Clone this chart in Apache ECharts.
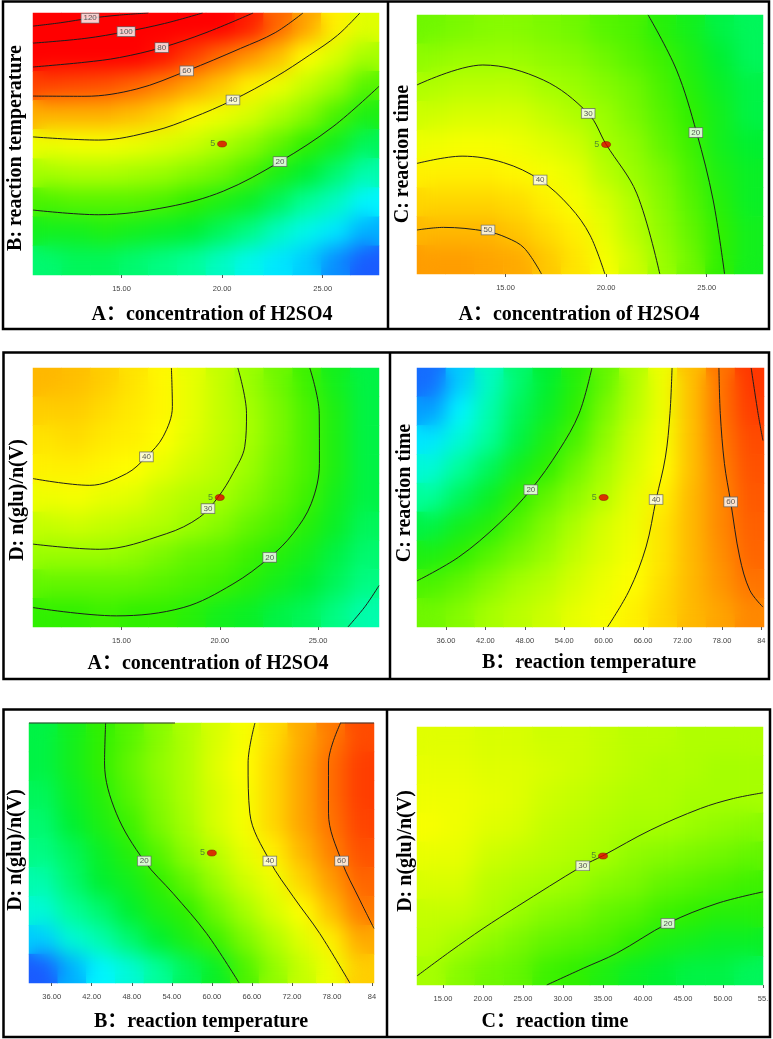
<!DOCTYPE html>
<html>
<head>
<meta charset="utf-8">
<script src="https://cdn.jsdelivr.net/npm/echarts@6/dist/echarts.min.js"></script>
<style>
  html, body { margin: 0; padding: 0; background: #fff; }
  #wrap { position: relative; width: 773px; height: 1039px; }
  .layer { position: absolute; left: 0; top: 0; width: 773px; height: 1039px; }
  #heatSoft { filter: blur(10px); }
</style>
</head>
<body>
<div id="wrap">
  <div id="heat" class="layer"></div>
  <div id="heatSoft" class="layer"></div>
  <div id="chart" class="layer"></div>
</div>
<script>
// tick labels on the factor axes
const aTicks = [15, 20, 25]
const bTicks = [36, 42, 48, 54, 60, 66, 72, 78, 84]
const cTicks = [15, 20, 25, 30, 35, 40, 45, 50, 55]

// response, 12 columns x 9 rows, top row first
const gridAB = [
  [117, 113, 109, 102, 97, 90, 82, 73, 62, 53, 42, 36],
  [87, 85, 83, 80, 75, 68, 61, 55, 49, 40, 35, 30],
  [67, 66, 65, 62, 58, 53, 48, 42, 38, 33, 29, 23],
  [51, 51, 51, 49, 46, 41, 38, 35, 31, 27, 22, 18],
  [38, 39, 39, 38, 36, 34, 31, 28, 24, 20, 17, 13],
  [30, 31, 31, 30, 29, 27, 25, 22, 18, 15, 12, 9],
  [22, 23, 23, 23, 22, 20, 18, 16, 13, 10, 8, 5],
  [17, 17, 18, 17, 16, 15, 13, 11, 8, 6, 4, 0],
  [12, 13, 13, 12, 11, 10, 8, 6, 4, 2, -2, -5]
]
const gridAC = [
  [25, 26, 27, 27, 26, 25, 23, 22, 19, 17, 14, 13],
  [28, 29, 29, 29, 28, 27, 25, 23, 21, 18, 15, 13],
  [31, 32, 32, 32, 30, 29, 27, 25, 22, 19, 16, 14],
  [34, 35, 35, 35, 33, 31, 29, 26, 23, 20, 17, 14],
  [38, 39, 39, 38, 36, 34, 30, 28, 24, 21, 17, 15],
  [42, 42, 42, 41, 39, 37, 32, 29, 26, 22, 18, 16],
  [46, 46, 46, 45, 42, 39, 35, 31, 27, 23, 19, 16],
  [50, 50, 50, 48, 45, 42, 37, 32, 28, 24, 20, 17],
  [54, 54, 53, 52, 48, 44, 39, 34, 29, 25, 20, 17]
]
const gridAD = [
  [50, 49, 47, 44, 41, 37, 33, 29, 25, 21, 17, 14],
  [47, 47, 45, 43, 41, 37, 33, 30, 26, 22, 18, 14],
  [44, 45, 43, 42, 40, 36, 33, 30, 26, 22, 18, 14],
  [42, 42, 41, 40, 37, 34, 32, 29, 25, 22, 18, 14],
  [38, 39, 37, 36, 33, 31, 30, 27, 24, 21, 17, 14],
  [33, 34, 33, 32, 31, 29, 27, 24, 22, 19, 16, 13],
  [29, 29, 29, 28, 26, 24, 23, 21, 19, 17, 14, 12],
  [24, 24, 24, 24, 23, 22, 21, 19, 17, 15, 13, 11],
  [20, 20, 21, 20, 20, 19, 17, 16, 14, 13, 11, 9]
]
const gridBC = [
  [-4, 2, 8, 12, 15, 19, 24, 31, 38, 49, 60, 69],
  [-1, 5, 9, 13, 16, 20, 26, 32, 38, 49, 60, 68],
  [4, 7, 10, 14, 18, 22, 28, 34, 39, 49, 59, 66],
  [7, 10, 13, 17, 20, 25, 30, 35, 40, 49, 58, 65],
  [10, 13, 16, 20, 24, 28, 32, 37, 42, 50, 57, 64],
  [14, 17, 19, 23, 27, 31, 35, 38, 44, 50, 57, 63],
  [18, 20, 23, 26, 29, 33, 36, 39, 44, 50, 56, 62],
  [22, 24, 27, 30, 32, 35, 38, 40, 45, 50, 55, 60],
  [25, 27, 30, 32, 34, 37, 39, 42, 46, 50, 53, 57]
]
const gridBD = [
  [14, 17, 20, 23, 27, 31, 35, 39, 45, 52, 59, 66],
  [14, 17, 20, 24, 28, 31, 36, 40, 46, 53, 61, 68],
  [13, 16, 19, 23, 27, 31, 35, 39, 46, 53, 61, 68],
  [12, 15, 18, 21, 26, 30, 35, 39, 46, 53, 60, 67],
  [11, 13, 16, 19, 23, 28, 32, 37, 42, 50, 58, 65],
  [9, 12, 15, 17, 20, 24, 29, 34, 38, 46, 54, 62],
  [7, 10, 12, 15, 18, 20, 25, 30, 35, 40, 49, 59],
  [2, 7, 9, 12, 15, 18, 21, 26, 31, 36, 42, 52],
  [-5, 0, 5, 7, 10, 13, 16, 22, 28, 33, 38, 47]
]
const gridCD = [
  [36, 36, 35, 35, 34, 34, 33, 32, 32, 31, 31, 31],
  [37, 37, 36, 36, 35, 34, 33, 32, 31, 31, 30, 30],
  [38, 38, 37, 36, 34, 33, 32, 31, 31, 30, 30, 30],
  [39, 38, 36, 35, 33, 32, 31, 30, 30, 29, 28, 27],
  [37, 37, 34, 33, 32, 31, 30, 28, 27, 26, 25, 24],
  [35, 35, 32, 31, 30, 29, 27, 26, 24, 23, 22, 21],
  [33, 33, 31, 29, 27, 26, 24, 23, 21, 20, 19, 19],
  [32, 30, 28, 26, 24, 23, 22, 20, 18, 17, 16, 16],
  [30, 27, 25, 24, 21, 20, 18, 16, 15, 14, 14, 13]
]

// contour lines [x, y]
const ab120 = [[10.6, 81.6], [11.98, 82.22], [13.44, 83.04], [14.9, 83.62], [16.33, 84]]
const ab100 = [[10.6, 78.48], [13.18, 79.34], [15.23, 80.59], [17.14, 82.08], [19.03, 84]]
const ab80 = [[10.6, 74.11], [13.18, 74.98], [14.9, 75.84], [17.0, 77.66], [19.2, 80.4], [21.54, 84]]
const ab60 = [[10.6, 68.78], [13.18, 68.74], [15.76, 70.08], [18.24, 73.39], [20.92, 77.52], [22.64, 80.4], [24.02, 84]]
const ab40 = [[10.6, 61.3], [13.87, 60.72], [16.62, 62.4], [18.51, 64.8], [20.54, 68.06], [22.64, 72.24], [24.36, 76.32], [25.74, 79.92], [26.85, 84]]
const ab20 = [[10.6, 47.9], [13.87, 47.04], [17.31, 48.48], [20.06, 51.36], [22.88, 56.78], [25.51, 63.17], [27.8, 70.56]]
const labelsAB = [[13.44, 83.04, '120'], [15.23, 80.59, '100'], [17.0, 77.66, '80'], [18.24, 73.39, '60'], [20.54, 68.06, '40'], [22.88, 56.78, '20']]

const ac50 = [[10.6, 21.8], [11.92, 22.2], [14.04, 21.6], [15.07, 20.6], [15.93, 19], [16.79, 15]]
const ac40 = [[10.6, 32.08], [12.84, 33.2], [14.9, 32.2], [16.72, 29.52], [18.2, 25.4], [19.2, 21], [19.94, 15]]
const ac30 = [[10.6, 44.2], [13.87, 47.28], [16.88, 44.96], [19.11, 39.8], [19.99, 35.08], [21.52, 27.48], [22.67, 15]]
const ac20 = [[22.09, 55], [23.5, 46.52], [24.5, 36.84], [25.32, 26.44], [25.89, 15]]
const labelsAC = [[14.13, 21.8, '50'], [16.72, 29.52, '40'], [19.11, 39.8, '30'], [24.46, 36.84, '20']]

const ad40 = [[17.54, 3], [17.59, 2.702], [17.12, 2.47], [16.27, 2.314], [15.25, 2.184], [13.39, 2.094], [10.5, 2.146]]
const ad30 = [[20.92, 3], [21.36, 2.65], [21.27, 2.392], [20.67, 2.186], [19.92, 2.004], [18.98, 1.848], [17.28, 1.72], [13.9, 1.6], [10.5, 1.64]]
const ad20 = [[24.58, 3], [25.06, 2.65], [25.07, 2.262], [24.65, 1.952], [23.72, 1.72], [22.54, 1.538], [20.67, 1.332], [18.14, 1.15], [14.74, 1.086], [10.5, 1.15]]
const ad10 = [[26.52, 1.0], [27.4, 1.16], [28.1, 1.32]]
const labelsAD = [[16.27, 2.314, '40'], [19.4, 1.914, '30'], [22.54, 1.538, '20']]

const bc20 = [[58.21, 55], [56.26, 47.96], [53.2, 42.28], [48.92, 36.2], [44.06, 30.96], [37.94, 25.8], [31.6, 22.12]]
const bc40 = [[70.41, 55], [70.09, 47.96], [69.4, 41.24], [67.98, 34.68], [66.45, 27.36], [63.91, 20.68], [60.59, 15]]
const bc60 = [[77.54, 55], [77.75, 47.96], [78.38, 40.24], [79.33, 34.32], [80.7, 25.8], [82.24, 20.68], [84.24, 18.08]]
const bc70 = [[82.45, 55], [83.5, 47.96], [84.24, 43.8]]
const labelsBC = [[48.92, 36.2, '20'], [67.98, 34.68, '40'], [79.33, 34.32, '60']]

const bd20 = [[44.08, 3], [43.92, 2.692], [45.68, 2.306], [49.87, 1.938], [54.21, 1.688], [59.23, 1.38], [64.09, 1.0]]
const bd40 = [[66.46, 3], [65.43, 2.692], [65.69, 2.306], [68.69, 1.938], [72.2, 1.664], [76.18, 1.38], [80.68, 1.0]]
const bd60 = [[79.29, 3], [77.48, 2.692], [77.48, 2.306], [79.44, 1.938], [82.18, 1.638], [84.3, 1.42]]
const labelsBD = [[49.87, 1.938, '20'], [68.69, 1.938, '40'], [79.44, 1.938, '60']]

const cd30 = [[11.75, 1.07], [15.86, 1.258], [20.01, 1.438], [24.21, 1.606], [32.47, 1.924], [34.98, 2.002], [40.9, 2.2], [47.17, 2.368], [51.32, 2.446], [55, 2.49]]
const cd20 = [[27.97, 1.0], [32.55, 1.13], [36.7, 1.246], [43.11, 1.478], [49.25, 1.632], [55, 1.722]]
const labelsCD = [[32.47, 1.924, '30'], [43.11, 1.478, '20']]

// centre point of the design (5 replicates)
const centerAB = [20, 60]
const centerAC = [20, 35]
const centerAD = [20, 2]
const centerBC = [60, 35]
const centerBD = [60, 2]
const centerCD = [35, 2]

const colorStops = ['#1a5cff', '#00b0ff', '#00f5ff', '#00ff99', '#00f030', '#30f000', '#70f800', '#a6ff00', '#d8ff00',
  '#ffff00', '#ffdd00', '#ffb800', '#ff9600', '#ff7400', '#ff5200', '#ff3000', '#ff1400', '#ff0000']

const panels = [
  { rect: { left: 33, top: 13, width: 346, height: 262 }, x: [10.6, 27.8], y: [36, 84], ticks: aTicks,
    cells: gridAB, lines: [ab120, ab100, ab80, ab60, ab40, ab20], labels: labelsAB, center: centerAB },
  { rect: { left: 417, top: 15, width: 346, height: 259 }, x: [10.6, 27.8], y: [15, 55], ticks: aTicks,
    cells: gridAC, lines: [ac50, ac40, ac30, ac20], labels: labelsAC, center: centerAC },
  { rect: { left: 33, top: 368, width: 346, height: 259 }, x: [10.5, 28.1], y: [1, 3], ticks: aTicks,
    cells: gridAD, lines: [ad40, ad30, ad20, ad10], labels: labelsAD, center: centerAD },
  { rect: { left: 417, top: 368, width: 347, height: 259 }, x: [31.6, 84.4], y: [15, 55], ticks: bTicks,
    cells: gridBC, lines: [bc20, bc40, bc60, bc70], labels: labelsBC, center: centerBC },
  { rect: { left: 29, top: 723, width: 345, height: 260 }, x: [32.6, 84.3], y: [1, 3], ticks: bTicks,
    cells: gridBD, lines: [bd20, bd40, bd60], labels: labelsBD, center: centerBD },
  { rect: { left: 417, top: 727, width: 346, height: 258 }, x: [11.75, 55], y: [1, 3], ticks: cTicks,
    cells: gridCD, lines: [cd30, cd20], labels: labelsCD, center: centerCD }
]

const xTitles = [
  { text: 'A：concentration of H2SO4', x: 212, y: 315 },
  { text: 'A：concentration of H2SO4', x: 579, y: 315 },
  { text: 'A：concentration of H2SO4', x: 208, y: 664 },
  { text: 'B：reaction temperature', x: 589, y: 663 },
  { text: 'B：reaction temperature', x: 201, y: 1022 },
  { text: 'C：reaction time', x: 555, y: 1022 }
]
const yTitles = [
  { text: 'B: reaction temperature', x: 16, y: 148 },
  { text: 'C: reaction time', x: 403, y: 154 },
  { text: 'D: n(glu)/n(V)', x: 18, y: 500 },
  { text: 'C: reaction time', x: 405, y: 493 },
  { text: 'D: n(glu)/n(V)', x: 16, y: 850 },
  { text: 'D: n(glu)/n(V)', x: 406, y: 851 }
]

const tickLabel = (v) => {
  if (v === 84) return '84'
  if (v === 55) return '55.'
  return v.toFixed(2)
}

const colIdx = Array.from({ length: 12 }, (_, i) => String(i))
const rowIdx = Array.from({ length: 9 }, (_, i) => String(i))

// heatmap layers (a plain one, and a softened copy laid over it inside the plot areas)
const heatGrid = []
const heatX = []
const heatY = []
const heatSeries = []
panels.forEach((p, i) => {
  heatGrid.push(Object.assign({ outerBoundsMode: 'none' }, p.rect))
  heatX.push({ gridIndex: i, type: 'category', data: colIdx, show: false })
  heatY.push({ gridIndex: i, type: 'category', data: rowIdx, show: false })
  const cells = []
  p.cells.forEach((row, r) => {
    row.forEach((v, c) => cells.push([c, p.cells.length - 1 - r, v]))
  })
  heatSeries.push({
    type: 'heatmap', xAxisIndex: i, yAxisIndex: i, data: cells,
    itemStyle: { borderWidth: 0 }, emphasis: { disabled: true }, silent: true
  })
})
const heatOption = (bg) => ({
  animation: false,
  backgroundColor: bg,
  grid: heatGrid,
  xAxis: heatX,
  yAxis: heatY,
  visualMap: {
    type: 'continuous', show: false, min: -5, max: 80, dimension: 2,
    inRange: { color: colorStops }
  },
  series: heatSeries
})
echarts.init(document.getElementById('heat')).setOption(heatOption('#fff'))

const softEl = document.getElementById('heatSoft')
softEl.style.clipPath = "path('" + panels.map((p) => {
  const r = p.rect
  return 'M' + r.left + ' ' + r.top + 'h' + r.width + 'v' + r.height + 'h' + (-r.width) + 'Z'
}).join(' ') + "')"
echarts.init(softEl).setOption(heatOption('transparent'))

// contours, labels, axes, titles and frames on top
const grid = []
const xAxis = []
const yAxis = []
const series = []
panels.forEach((p, i) => {
  grid.push(Object.assign({ outerBoundsMode: 'none' }, p.rect))
  xAxis.push({
    gridIndex: i, type: 'value', min: p.x[0], max: p.x[1], position: 'bottom',
    axisLine: { show: false },
    splitLine: { show: false },
    axisTick: { show: true, customValues: p.ticks, length: 3, lineStyle: { color: '#555', width: 1 } },
    axisLabel: { customValues: p.ticks, formatter: tickLabel, fontSize: 7.5, color: '#444', margin: 10, fontFamily: 'Liberation Sans' }
  })
  yAxis.push({ gridIndex: i, type: 'value', min: p.y[0], max: p.y[1], show: false })

  p.lines.forEach((pts) => {
    series.push({
      type: 'line', xAxisIndex: i, yAxisIndex: i, data: pts,
      smooth: 0.35, symbol: 'none', silent: true, z: 3,
      lineStyle: { color: '#1e1e1e', width: 1 }
    })
  })

  series.push({
    type: 'scatter', xAxisIndex: i, yAxisIndex: i, silent: true, z: 5,
    symbolSize: 0, itemStyle: { color: 'rgba(0,0,0,0)' },
    data: p.labels.map((l) => ({ value: [l[0], l[1]], name: l[2] })),
    label: {
      show: true, position: 'inside', formatter: '{b}', fontSize: 8, color: '#333',
      fontFamily: 'Liberation Sans', backgroundColor: '#fff', borderColor: '#666', borderWidth: 0.8,
      padding: [1, 2, 0, 2]
    }
  })

  series.push({
    type: 'scatter', xAxisIndex: i, yAxisIndex: i, silent: true, z: 6,
    data: [p.center], symbol: 'circle', symbolSize: [9, 6],
    itemStyle: { color: '#e00000', borderColor: '#800', borderWidth: 0.6 },
    label: { show: true, position: 'left', distance: 2, formatter: '5', fontSize: 9, color: '#3d6b3d', fontFamily: 'Liberation Sans' }
  })
})

const graphic = []
const titleFont = 'bold 20px "Liberation Serif", "Noto Sans CJK SC", serif'
xTitles.forEach((t) => {
  graphic.push({ type: 'text', x: t.x, y: t.y, z: 50,
    style: { text: t.text, font: titleFont, fill: '#000', align: 'center', verticalAlign: 'middle' } })
})
yTitles.forEach((t) => {
  graphic.push({ type: 'text', x: t.x, y: t.y, rotation: Math.PI / 2, z: 50,
    style: { text: t.text, font: titleFont, fill: '#000', align: 'center', verticalAlign: 'middle' } })
})
// frames around the three rows of panels
const frames = [[3, 1.5, 766, 327.5, 388], [3.5, 352.5, 765.5, 326.5, 390], [3.5, 709.5, 766.5, 327.5, 387]]
frames.forEach((f) => {
  graphic.push({ type: 'rect', z: 60, shape: { x: f[0], y: f[1], width: f[2], height: f[3] },
    style: { fill: 'none', stroke: '#000', lineWidth: 2.5 } })
  graphic.push({ type: 'line', z: 60, shape: { x1: f[4], y1: f[1], x2: f[4], y2: f[1] + f[3] },
    style: { stroke: '#000', lineWidth: 2.5 } })
})
// stray edge strokes along the top of the lower-left plot
graphic.push({ type: 'line', z: 40, shape: { x1: 29, y1: 723, x2: 175, y2: 723 }, style: { stroke: '#333', lineWidth: 1.2 } })
graphic.push({ type: 'line', z: 40, shape: { x1: 340, y1: 723, x2: 374, y2: 723 }, style: { stroke: '#333', lineWidth: 1.2 } })

echarts.init(document.getElementById('chart')).setOption({
  animation: false,
  backgroundColor: 'transparent',
  grid,
  xAxis,
  yAxis,
  series,
  graphic
})
</script>
</body>
</html>
